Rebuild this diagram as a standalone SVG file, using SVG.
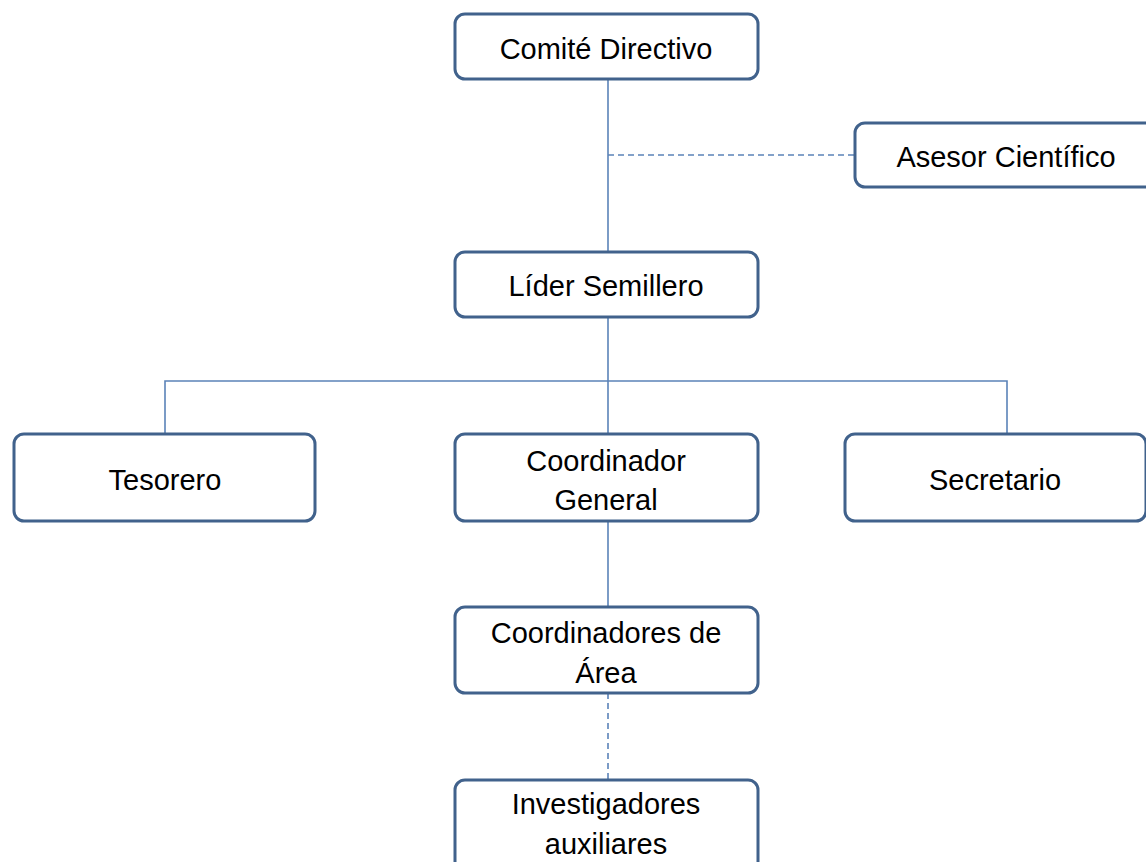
<svg xmlns="http://www.w3.org/2000/svg" width="1146" height="862" viewBox="0 0 1146 862">
<style>
.box{fill:#fff;stroke:#41628C;stroke-width:3}
.ln{fill:none;stroke:#5B83B8;stroke-width:1.6}
.dash{stroke-dasharray:6 4}
text{font-family:"Liberation Sans",Arial,sans-serif;font-size:29px;fill:#000;text-anchor:middle}
</style>
<rect width="1146" height="862" fill="#fff"/>
<g id="connectors">
<path class="ln" d="M608 79V252"/>
<path class="ln dash" d="M608 155H855"/>
<path class="ln" d="M608 317V434"/>
<path class="ln" d="M165 434V381H1007V434"/>
<path class="ln" d="M608 521V607"/>
<path class="ln dash" d="M608 693V780"/>
</g>
<g id="comite"><rect class="box" x="455" y="14" width="303" height="65" rx="10"/><text x="606" y="59">Comité Directivo</text></g>
<g id="asesor"><rect class="box" x="855" y="123" width="300" height="64" rx="10"/><text x="1006" y="167">Asesor Científico</text></g>
<g id="lider"><rect class="box" x="455" y="252" width="303" height="65" rx="10"/><text x="606" y="296">Líder Semillero</text></g>
<g id="tesorero"><rect class="box" x="14" y="434" width="301" height="87" rx="10"/><text x="165" y="490">Tesorero</text></g>
<g id="coordinador"><rect class="box" x="455" y="434" width="303" height="87" rx="10"/><text x="606" y="471">Coordinador</text><text x="606" y="510">General</text></g>
<g id="secretario"><rect class="box" x="845" y="434" width="301" height="87" rx="10"/><text x="995" y="490">Secretario</text></g>
<g id="coordinadores"><rect class="box" x="455" y="607" width="303" height="86" rx="10"/><text x="606" y="643">Coordinadores de</text><text x="606" y="683">Área</text></g>
<g id="investigadores"><rect class="box" x="455" y="780" width="303" height="100" rx="10"/><text x="606" y="814">Investigadores</text><text x="606" y="854">auxiliares</text></g>
</svg>
